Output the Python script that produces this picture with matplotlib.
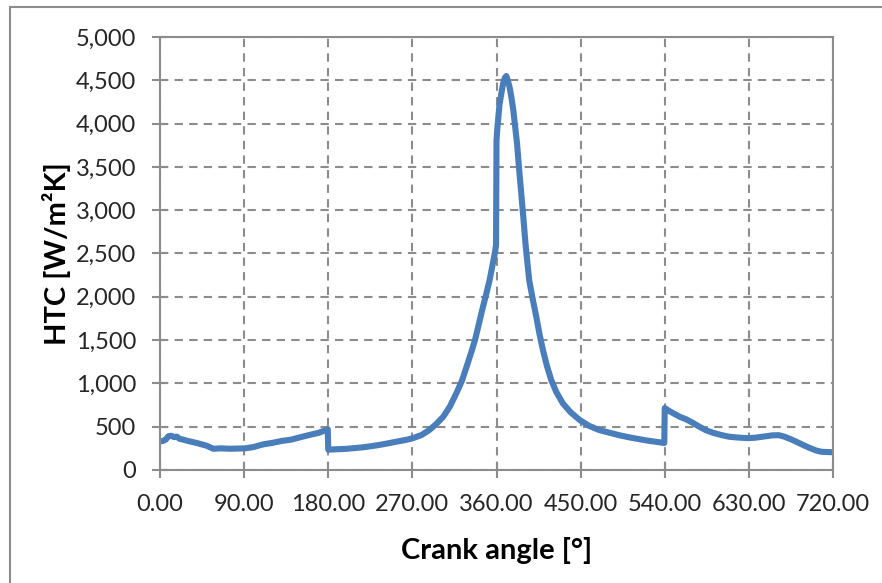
import matplotlib
matplotlib.use("Agg")
import matplotlib.pyplot as plt
from matplotlib.patches import Rectangle
from matplotlib.ticker import FuncFormatter, MultipleLocator

# crank angle [deg] and heat transfer coefficient [W/m2K]
angle = [0, 3, 6, 9, 12, 15, 18, 21, 25, 30, 40, 50, 57, 65, 75, 91, 100, 110, 121, 130,
         140, 150, 160, 170, 176, 179.5,
         180, 190, 200, 210, 217, 226, 235, 245, 253, 262,
         270, 280, 288, 295, 303, 310, 317, 323, 328, 333, 337, 341, 345.5, 349, 352.6,
         356, 358.5, 359.5,
         360, 361, 363.3, 367, 369, 370.5, 372, 374, 376, 378, 380, 382, 384, 386.5,
         389, 391, 393, 395, 399, 402.6, 406, 409.7, 414, 418.6, 424, 431, 439, 449,
         459, 470, 481, 492, 503, 520, 539.5,
         540, 545, 550, 556, 563, 570, 577, 584, 591.6, 600, 609, 618, 628, 637, 645,
         655, 662, 668, 675, 682, 688, 695, 702, 708, 720]
htc = [330, 335, 350, 390, 395, 380, 385, 360, 350, 335, 310, 280, 245, 250, 245, 250,
       265, 295, 315, 335, 350, 378, 405, 430, 455, 470,
       235, 240, 245, 255, 262, 275, 290, 310, 327, 345,
       365, 405, 461, 525, 615, 730, 885, 1030, 1192, 1360, 1500, 1680, 1884, 2030, 2191,
       2380, 2520, 2600,
       3800, 3960, 4229, 4460, 4530, 4550, 4500, 4421, 4300, 4152, 3960, 3768, 3500, 3191,
       2880, 2615, 2400, 2190, 1960, 1768, 1570, 1384, 1200, 1038, 900, 769, 670, 577,
       510, 461, 430, 400, 375, 342, 312,
       715, 680, 650, 615, 585, 545, 500, 460, 430, 405, 384, 375, 368, 373, 385,
       400, 402, 385, 355, 320, 289, 255, 225, 210, 205]

xticks = [0, 90, 180, 270, 360, 450, 540, 630, 720]

plt.rcParams['font.family'] = ['Lato', 'DejaVu Sans']

fig = plt.figure(figsize=(8.82, 5.83), dpi=100)
ax = fig.add_axes([160 / 882, 1 - 470 / 583, 673 / 882, 433 / 583])

ax.plot(angle, htc, color='#4A7EBB', lw=4.4, solid_joinstyle='round', solid_capstyle='round')

ax.set_xlim(0, 720)
ax.set_ylim(0, 5000)
ax.set_xticks(xticks)
ax.yaxis.set_major_locator(MultipleLocator(500))
ax.xaxis.set_major_formatter(FuncFormatter(lambda v, p: f"{v:.2f}"))
ax.yaxis.set_major_formatter(FuncFormatter(lambda v, p: f"{v:,.0f}"))

ax.grid(True, color='#8C8C8C', ls=(0, (4, 3)), lw=1.5)
ax.set_axisbelow(True)
for s in ax.spines.values():
    s.set_color('#8C8C8C')
    s.set_linewidth(1.5)
ax.tick_params(direction='inout', length=12, width=1.5, color='#8C8C8C',
               labelsize=17, labelcolor='#262626')
ax.tick_params(axis='x', pad=11)
ax.tick_params(axis='y', pad=11)

ax.set_xlabel("Crank angle [°]", fontsize=21, fontweight='bold')
ax.set_ylabel("HTC [W/m²K]", fontsize=21, fontweight='bold')
ax.xaxis.set_label_coords(0.5, -0.155)
ax.yaxis.set_label_coords(-0.132, 0.5)

# outer chart border (only top and left edges visible)
fig.patches.append(Rectangle((10 / 882, -0.1), 1.0, 1.1 - 7 / 583, transform=fig.transFigure,
                             fill=False, edgecolor='#8C8C8C', lw=1.5))

fig.savefig("out.png", dpi=100)
